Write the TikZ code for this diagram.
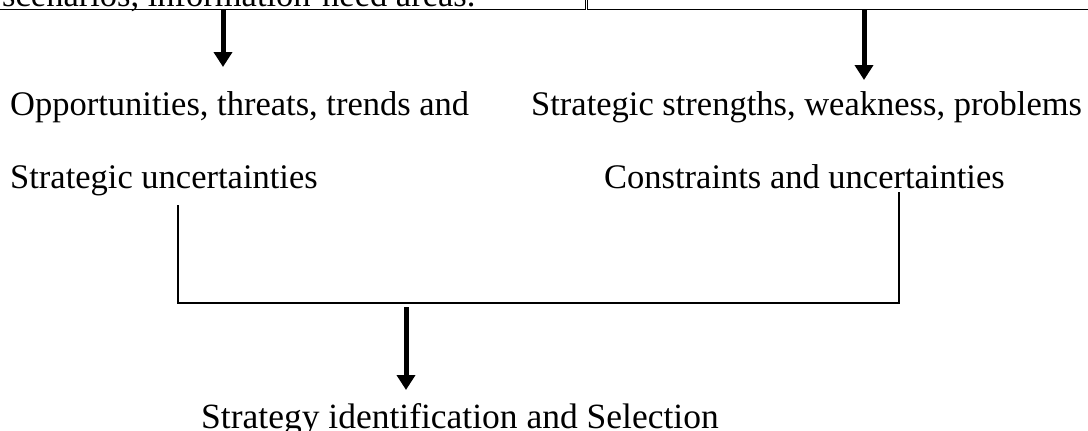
\documentclass[tikz,border=0pt]{standalone}
\usepackage{fontspec}
\setmainfont{Liberation Serif}
\usepackage{tikz}
\usetikzlibrary{arrows.meta}

\begin{document}
\begin{tikzpicture}[x=1pt,y=-1pt,
  txt/.style={font=\fontsize{34.5}{40}\selectfont,inner sep=0pt,anchor=base west},
  topbox/.style={draw,line width=1pt,minimum height=120pt,inner sep=0pt,anchor=south west},
  bigarrow/.style={line width=5pt,-{Triangle[length=15pt,width=18pt]}},
  bracket/.style={line width=1.6pt}]
\useasboundingbox (0,0) rectangle (1088,431);
\clip (0,0) rectangle (1088,431);
\node[topbox,minimum width=590pt] (lbox) at (-5,10) {};
\node[topbox,minimum width=520pt] (rbox) at (587,10) {};
\node[txt] (scen) at (2,6) {scenarios, information-need areas.};

\node[txt] (opp) at (10,115) {Opportunities, threats, trends and};
\node[txt] (str) at (531,115) {Strategic strengths, weakness, problems};
\node[txt] (unc) at (10,188) {Strategic uncertainties};
\node[txt] (con) at (604,188) {Constraints and uncertainties};
\node[txt,font=\fontsize{35.5}{40}\selectfont] (sel) at (201,428) {Strategy identification and Selection};

\coordinate (tipl) at (223,67);
\coordinate (tipr) at (864,80);
\draw[bigarrow] (lbox.south -| tipl) -- (tipl);
\draw[bigarrow] (rbox.south -| tipr) -- (tipr);

\coordinate (bl) at (178,205);
\coordinate (br) at (899,192);
\coordinate (bm) at (406,303);
\draw[bracket] (bl) |- (bm) -| (br);

\coordinate (tops) at (406,307);
\coordinate (tipb) at (406,390);
\draw[bigarrow] (tops) -- (tipb);
\end{tikzpicture}
\end{document}
